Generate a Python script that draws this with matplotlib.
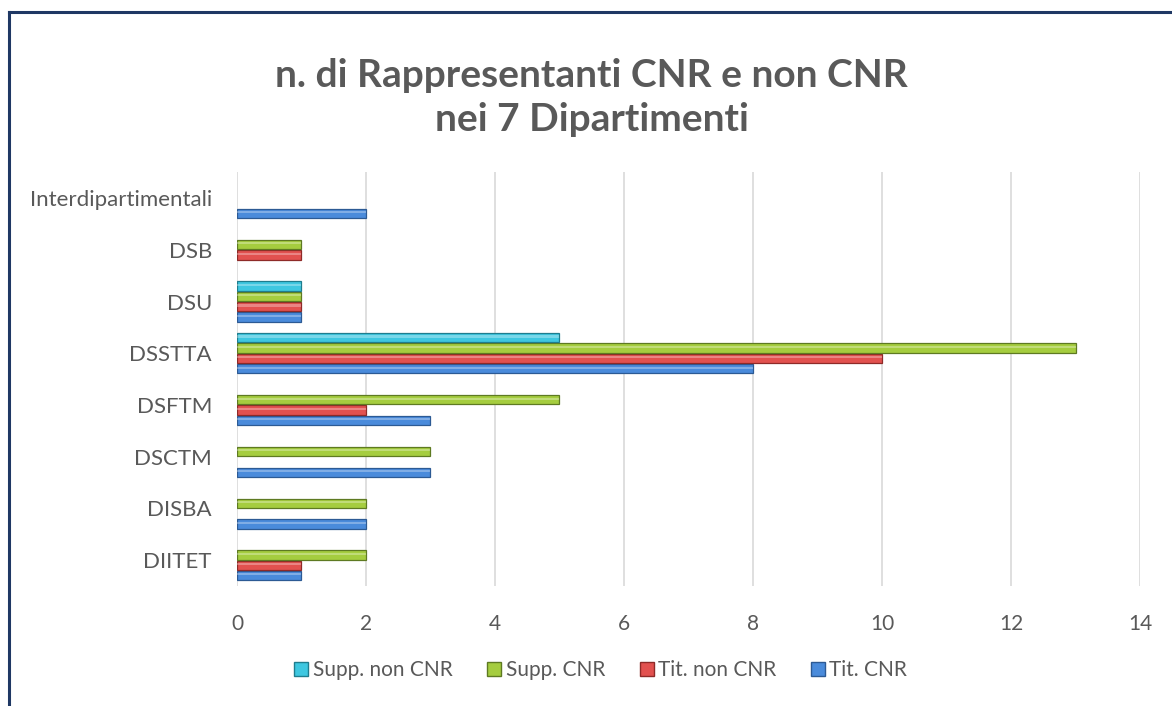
import matplotlib.pyplot as plt
import numpy as np
from matplotlib.lines import Line2D

# categories (bottom to top)
departments = ['DIITET', 'DISBA', 'DSCTM', 'DSFTM', 'DSSTTA', 'DSU', 'DSB', 'Interdipartimentali']

# series values
tit_cnr = [1, 2, 3, 3, 8, 1, 0, 2]
tit_non_cnr = [1, 0, 0, 2, 10, 1, 1, 0]
supp_cnr = [2, 2, 3, 5, 13, 1, 1, 0]
supp_non_cnr = [0, 0, 0, 0, 5, 1, 0, 0]

series = [
    ('Tit. CNR', tit_cnr, '#4A8BDB', '#2C5A94'),
    ('Tit. non CNR', tit_non_cnr, '#E2514F', '#8E2A28'),
    ('Supp. CNR', supp_cnr, '#A5CD3F', '#5E7A22'),
    ('Supp. non CNR', supp_non_cnr, '#3EC7E0', '#1F7D8E'),
]

FONT = 'Lato'
fig = plt.figure(figsize=(11.72, 7.06), dpi=100)
ax = fig.add_axes([0.2022, 0.170, 0.7705, 0.586])

y = np.arange(len(departments))
slot = 0.2
for i, (name, vals, col, edge) in enumerate(series):
    vals = np.array(vals, dtype=float)
    keep = vals > 0
    ypos = y[keep] + (i - 1.5) * slot
    ax.barh(ypos, vals[keep], height=slot * 0.9, color=col, edgecolor=edge,
            linewidth=0.9, label=name, zorder=3)
    # light highlight on upper part of the bar (bevel look)
    ax.barh(ypos + slot * 0.12, vals[keep], height=slot * 0.2, color='white',
            alpha=0.3, linewidth=0, zorder=4)

ax.set_xlim(0, 14)
ax.set_ylim(-0.5, len(departments) - 0.5)
ax.set_xticks(range(0, 15, 2))
ax.set_yticks(y)
ax.set_yticklabels(departments)
ax.grid(axis='x', color='#D9D9D9', linewidth=1.2, zorder=0)
ax.set_axisbelow(True)
for s in ax.spines.values():
    s.set_visible(False)
ax.tick_params(length=0, labelsize=15, labelcolor='#595959')
ax.tick_params(axis='y', labelsize=16, pad=18)
ax.tick_params(axis='x', pad=20)
for lbl in ax.get_xticklabels() + ax.get_yticklabels():
    lbl.set_fontfamily(FONT)

fig.text(0.505, 0.862, 'n. di Rappresentanti CNR e non CNR\nnei 7 Dipartimenti',
         ha='center', va='center', fontsize=28, fontweight='bold',
         color='#595959', family=FONT, linespacing=1.3)

# legend in reversed order
handles = [Line2D([], [], marker='s', linestyle='', markersize=10,
                  markerfacecolor=col, markeredgecolor=edge)
           for name, vals, col, edge in series[::-1]]
labels = [name for name, vals, col, edge in series[::-1]]
fig.legend(handles, labels, loc='center', bbox_to_anchor=(0.512, 0.051), ncol=4,
           frameon=False, handlelength=0.8, handletextpad=0.15, columnspacing=1.6,
           prop={'family': FONT, 'size': 15}, labelcolor='#595959')

# partial dark frame (top and left edges)
fig.add_artist(Line2D([0.0075, 1.0], [0.983, 0.983], color='#1F3864', linewidth=2.2,
                      transform=fig.transFigure))
fig.add_artist(Line2D([0.0075, 0.0075], [0.0, 0.983], color='#1F3864', linewidth=2.2,
                      transform=fig.transFigure))

fig.savefig('out.png', dpi=100)
